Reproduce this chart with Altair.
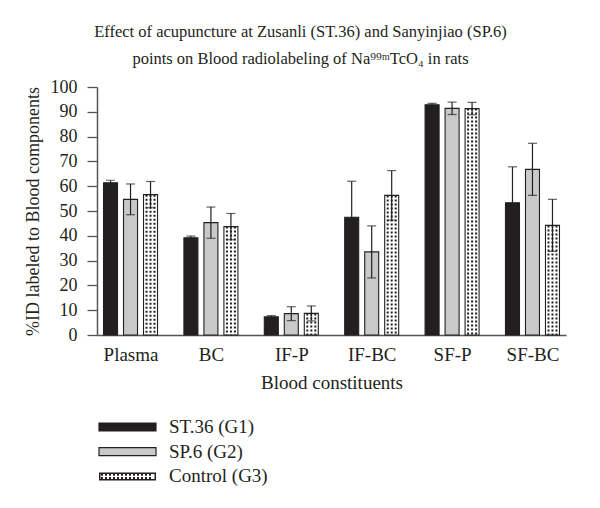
import altair as alt
import pandas as pd

# ---- data ----
categories = ["Plasma", "BC", "IF-P", "IF-BC", "SF-P", "SF-BC"]
groups = ["ST.36 (G1)", "SP.6 (G2)", "Control (G3)"]
y_ticks = [0, 10, 20, 30, 40, 50, 60, 70, 80, 90, 100]

st36_mean = [61.4, 39.2, 7.3, 47.5, 92.8, 53.3]
st36_err = [1.0, 0.7, 0.5, 14.5, 0.6, 14.5]
sp6_mean = [54.7, 45.3, 8.6, 33.5, 91.4, 66.8]
sp6_err = [6.2, 6.3, 2.8, 10.5, 2.5, 10.5]
ctrl_mean = [56.6, 43.7, 8.7, 56.3, 91.3, 44.2]
ctrl_err = [5.3, 5.3, 3.0, 10.0, 2.5, 10.5]

rows = []
for g, means, errs in zip(groups, [st36_mean, sp6_mean, ctrl_mean], [st36_err, sp6_err, ctrl_err]):
    for c, m, e in zip(categories, means, errs):
        rows.append({"constituent": c, "group": g, "mean": m, "lo": m - e, "hi": m + e})
df = pd.DataFrame(rows)

# ---- style ----
FONT = "Liberation Serif"
INK = "#231f20"
BLACK = "#231f20"
GREY = "#c9c9c9"
offsets = {groups[0]: -20, groups[1]: 0, groups[2]: 20}
fills = {groups[0]: BLACK, groups[1]: GREY, groups[2]: "#ffffff"}
BAR_W = 14

# legend symbol paths (unit box, scaled by sqrt(size)/2)
SYM_W = 57.0
half = SYM_W / 2
def px(v):
    return round(v / half, 4)

rect = f"M-1,{-px(4)}L1,{-px(4)}L1,{px(4)}L-1,{px(4)}Z"
inner = f"M{-px(half-1.5)},{-px(2.5)}L{-px(half-1.5)},{px(2.5)}L{px(half-1.5)},{px(2.5)}L{px(half-1.5)},{-px(2.5)}Z"
dots = ""
xx = -half + 2.0
while xx + 2 <= half - 1.5:
    for y0, y1 in [(-2.5, -0.7), (0.7, 2.5)]:
        dots += f"M{px(xx)},{px(y0)}L{px(xx+2)},{px(y0)}L{px(xx+2)},{px(y1)}L{px(xx)},{px(y1)}Z"
    xx += 4
dotted_path = rect + inner + dots

x_enc = alt.X(
    "constituent:N",
    sort=categories,
    scale=alt.Scale(type="point", padding=0.417),
    axis=alt.Axis(
        title="Blood constituents",
        ticks=False,
        labelAngle=0,
        labelPadding=10,
        titlePadding=9,
        labelFontSize=19,
        titleFontSize=19,
    ),
)
y_scale = alt.Scale(domain=[0, 100], nice=False, zero=True)
y_axis = alt.Axis(
    title="%ID labeled to Blood components",
    values=y_ticks,
    tickCount=11,
    grid=False,
    tickSize=10,
    labelPadding=10,
    titlePadding=8,
    labelOverlap=False,
    labelFontSize=18,
    titleFontSize=18,
)

def yq(field):
    return alt.Y(f"{field}:Q", scale=y_scale, axis=y_axis)

layers = []
for g in groups:
    off = offsets[g]
    base = alt.Chart(df).transform_filter(alt.datum.group == g)
    bar = base.mark_bar(
        width=BAR_W,
        xOffset=off,
        fill=fills[g],
        stroke=INK,
        strokeWidth=1.1,
    ).encode(x=x_enc, y=yq("mean"))
    layers.append(bar)
    if g == groups[2]:
        for d in (-4, 0, 4):
            dots_layer = base.mark_rule(
                xOffset=off + d,
                strokeDash=[2, 2],
                strokeWidth=2,
                color=INK,
            ).encode(x=x_enc, y=yq("mean"), y2=alt.datum(0))
            layers.append(dots_layer)
    err = base.mark_rule(xOffset=off, color=INK, strokeWidth=1.2).encode(
        x=x_enc, y=yq("lo"), y2="hi:Q"
    )
    cap_hi = base.mark_tick(xOffset=off, color=INK, size=9, thickness=1.2, orient="horizontal").encode(
        x=x_enc, y=yq("hi")
    )
    cap_lo = base.mark_tick(xOffset=off, color=INK, size=9, thickness=1.2, orient="horizontal").encode(
        x=x_enc, y=yq("lo")
    )
    layers += [err, cap_hi, cap_lo]

legend = alt.Legend(
    title=None,
    orient="none",
    legendX=1,
    legendY=330,
    direction="vertical",
    symbolSize=SYM_W * SYM_W,
    symbolStrokeWidth=1.2,
    symbolOpacity=1,
    labelFont=FONT,
    labelFontSize=19,
    labelColor=INK,
    labelOffset=12,
    clipHeight=20,
    rowPadding=4.7,
    padding=0,
)

legend_layer = alt.Chart(df).mark_point(size=0, opacity=0, filled=True).encode(
    x=x_enc,
    y=yq("mean"),
    fill=alt.Fill("group:N", sort=groups, scale=alt.Scale(domain=groups, range=[BLACK, GREY, BLACK]), legend=legend),
    stroke=alt.Stroke("group:N", sort=groups, scale=alt.Scale(domain=groups, range=[BLACK, INK, "transparent"]), legend=legend),
    shape=alt.Shape("group:N", sort=groups, scale=alt.Scale(domain=groups, range=[rect, rect, dotted_path]), legend=legend),
)
layers.append(legend_layer)

chart = alt.layer(*layers).properties(
    width=469,
    height=248,
    autosize=alt.AutoSizeParams(type="none"),
    padding={"left": 89, "top": 79, "right": 26, "bottom": 165},
    title=alt.TitleParams(
        text=[
            "Effect of acupuncture at Zusanli (ST.36) and Sanyinjiao (SP.6)",
            "points on Blood radiolabeling of Na\u2079\u2079\u1d50TcO\u2084 in rats",
        ],
        font=FONT,
        fontSize=16.5,
        fontWeight="normal",
        color=INK,
        anchor="middle",
        dx=-31,
        offset=11,
        lineHeight=27,
    ),
).configure_view(stroke=None).configure_axis(
    labelFont=FONT,
    titleFont=FONT,
    titleFontWeight="normal",
    labelColor=INK,
    titleColor=INK,
    domainColor="#555555",
    domainWidth=1.5,
    tickColor="#555555",
    tickWidth=1.3,
)

chart.save("out.html", embed_options={"renderer": "svg", "actions": False})
